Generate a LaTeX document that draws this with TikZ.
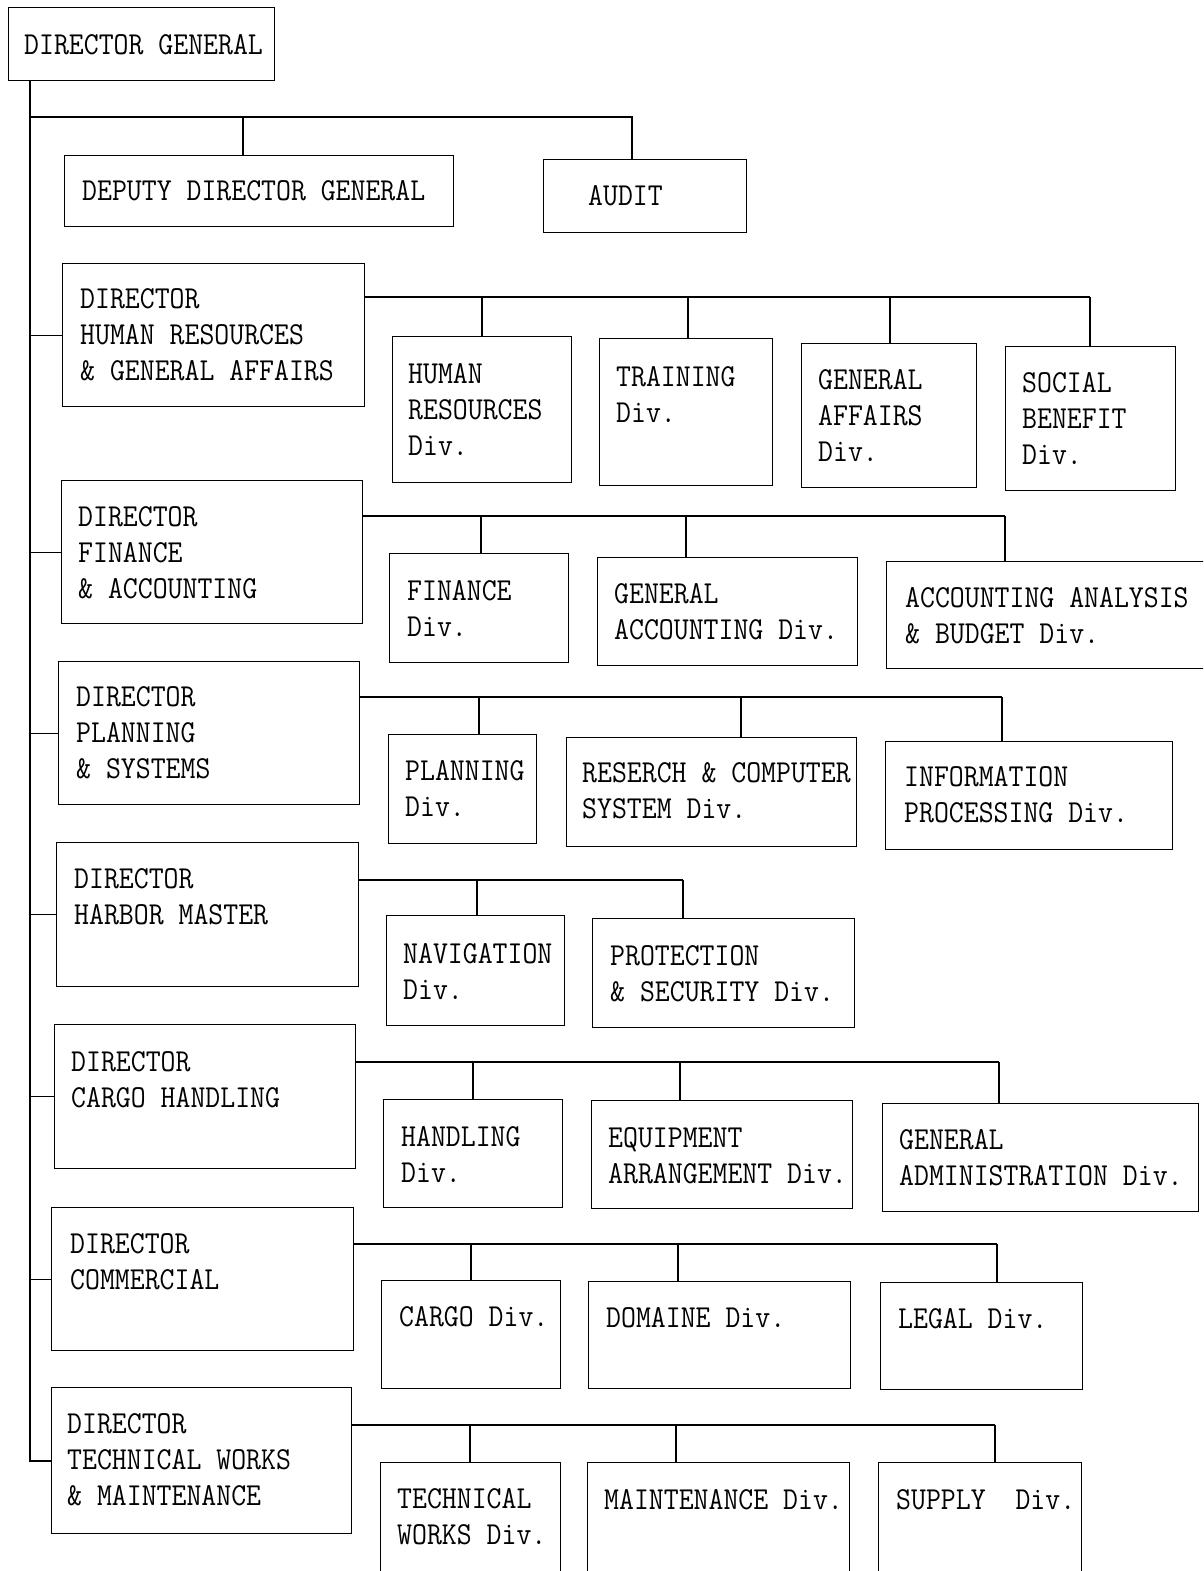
\documentclass[tikz,border=0pt]{standalone}
\usepackage{fontspec}
\newcommand\tfont{\fontsize{32}{36}\selectfont\ttfamily\addfontfeatures{FakeBold=1.3}}
\newcommand\sq[1]{\scalebox{0.905}[1]{#1}}
\newcommand\fl{\rule{0pt}{22pt}}
\tikzset{
  box/.style={draw, line width=1.4pt, inner sep=0pt, anchor=north west},
  lbl/.style={anchor=north west, inner sep=0pt, align=left, font=\tfont},
  conn/.style={line width=1.3pt},
  trunkline/.style={line width=1.8pt}
}
% #1 name, #2 x, #3 y, #4 w, #5 h, #6 text x, #7 text baseline, #8 text
\newcommand\ubox[8]{%
  \node[box, minimum width=#4pt, minimum height=#5pt] (#1) at (#2,#3) {};
  \node[lbl] (#1-t) at (#6,#7-22) {\fl#8};}
\begin{document}
\begin{tikzpicture}[x=1pt,y=-1pt]
\useasboundingbox (0,0) rectangle (1203,1571);
\clip (0,0) rectangle (1203,1571);
\fill[white] (0,0) rectangle (1203,1571);

% top level
\ubox{dg}{8}{7}{266}{73}{24}{54}{\sq{DIRECTOR GENERAL}}
\ubox{ddg}{64}{155}{389}{71}{82}{200}{\sq{DEPUTY DIRECTOR GENERAL}}
\ubox{aud}{543}{159}{203}{73}{588}{205}{\sq{AUDIT}}

% directors
\ubox{hrd}{62}{263}{302}{143}{80}{308}{\sq{DIRECTOR}\\\sq{HUMAN RESOURCES}\\\sq{\& GENERAL AFFAIRS}}
\ubox{fad}{61}{480}{301}{143}{78}{526}{\sq{DIRECTOR}\\\sq{FINANCE}\\\sq{\& ACCOUNTING}}
\ubox{psd}{58}{661}{301}{143}{76}{706}{\sq{DIRECTOR}\\\sq{PLANNING}\\\sq{\& SYSTEMS}}
\ubox{hmd}{56}{842}{302}{144}{74}{888}{\sq{DIRECTOR}\\\sq{HARBOR MASTER}}
\ubox{chd}{54}{1024}{301}{144}{71}{1071}{\sq{DIRECTOR}\\\sq{CARGO HANDLING}}
\ubox{cod}{51}{1207}{302}{143}{70}{1253}{\sq{DIRECTOR}\\\sq{COMMERCIAL}}
\ubox{twd}{51}{1387}{300}{146}{67}{1433}{\sq{DIRECTOR}\\\sq{TECHNICAL WORKS}\\\sq{\& MAINTENANCE}}

% HR divisions
\ubox{hr1}{392}{336}{179}{146}{408}{383}{\sq{HUMAN}\\\sq{RESOURCES}\\\sq{Div.}}
\ubox{hr2}{599}{338}{173}{147}{616}{386}{\sq{TRAINING}\\\sq{Div.}}
\ubox{hr3}{801}{343}{175}{144}{818}{389}{\sq{GENERAL}\\\sq{AFFAIRS}\\\sq{Div.}}
\ubox{hr4}{1005}{346}{170}{144}{1022}{392}{\sq{SOCIAL}\\\sq{BENEFIT}\\\sq{Div.}}

% Finance divisions
\ubox{fa1}{389}{553}{179}{109}{407}{600}{\sq{FINANCE}\\\sq{Div.}}
\ubox{fa2}{597}{557}{260}{108}{614}{603}{\sq{GENERAL}\\\sq{ACCOUNTING Div.}}
\ubox{fa3}{886}{561}{400}{107}{905}{607}{\sq{ACCOUNTING ANALYSIS}\\\sq{\& BUDGET Div.}}

% Planning divisions
\ubox{ps1}{388}{734}{148}{109}{405}{780}{\sq{PLANNING}\\\sq{Div.}}
\ubox{ps2}{566}{737}{290}{109}{582}{782}{\sq{RESERCH \& COMPUTER}\\\sq{SYSTEM Div.}}
\ubox{ps3}{885}{741}{287}{108}{904}{786}{\sq{INFORMATION}\\\sq{PROCESSING Div.}}

% Harbor divisions
\ubox{hm1}{386}{915}{178}{110}{403}{963}{\sq{NAVIGATION}\\\sq{Div.}}
\ubox{hm2}{592}{918}{262}{109}{610}{965}{\sq{PROTECTION}\\\sq{\& SECURITY Div.}}

% Cargo handling divisions
\ubox{ch1}{383}{1099}{179}{108}{401}{1146}{\sq{HANDLING}\\\sq{Div.}}
\ubox{ch2}{591}{1100}{261}{108}{608}{1147}{\sq{EQUIPMENT}\\\sq{ARRANGEMENT Div.}}
\ubox{ch3}{882}{1103}{316}{108}{899}{1149}{\sq{GENERAL}\\\sq{ADMINISTRATION Div.}}

% Commercial divisions
\ubox{co1}{381}{1280}{179}{108}{399}{1326}{\sq{CARGO Div.}}
\ubox{co2}{588}{1281}{262}{107}{606}{1327}{\sq{DOMAINE Div.}}
\ubox{co3}{880}{1282}{202}{107}{898}{1328}{\sq{LEGAL Div.}}

% Technical divisions
\ubox{tw1}{380}{1462}{180}{150}{397}{1508}{\sq{TECHNICAL}\\\sq{WORKS Div.}}
\ubox{tw2}{587}{1462}{262}{150}{604}{1509}{\sq{MAINTENANCE Div.}}
\ubox{tw3}{878}{1462}{203}{150}{896}{1509}{\sq{SUPPLY~~Div.}}

% trunk
\coordinate (tk) at (30,0);
\coordinate (bar) at (30,117);
\draw[trunkline] (dg.south -| tk) -- (tk |- twd.west) -- (twd.west);
\foreach \d in {hrd,fad,psd,hmd,chd,cod}
  \draw[conn] (tk |- \d.west) -- (\d.west);

% top bar
\coordinate (ddgd) at ([xshift=179pt]ddg.north west);
\coordinate (audd) at ([xshift=89pt]aud.north west);
\draw[conn] (bar) -| (audd);
\draw[conn] (ddgd) -- (ddgd |- bar);

% branch helper: #1 director, #2 yshift, list of child:offset
\newcommand\branch[3]{%
  \coordinate (#1b) at ([yshift=-#2pt]#1.north east);
  \foreach \c/\o [count=\i] in {#3} {
    \coordinate (#1c\i) at ([xshift=\o pt]\c.north west);
    \draw[conn] (#1c\i) -- (#1c\i |- #1b);
  }
}
\branch{hrd}{34}{hr1/90,hr2/89,hr3/89,hr4/85}
\draw[conn] (hrdb) -- (hrdb -| hrdc4);
\branch{fad}{36}{fa1/92,fa2/89,fa3/119}
\draw[conn] (fadb) -- (fadb -| fadc3);
\branch{psd}{36}{ps1/91,ps2/175,ps3/117}
\draw[conn] (psdb) -- (psdb -| psdc3);
\branch{hmd}{38}{hm1/91,hm2/91}
\draw[conn] (hmdb) -- (hmdb -| hmdc2);
\branch{chd}{38}{ch1/90,ch2/89,ch3/117}
\draw[conn] (chdb) -- (chdb -| chdc3);
\branch{cod}{37}{co1/90,co2/90,co3/117}
\draw[conn] (codb) -- (codb -| codc3);
\branch{twd}{38}{tw1/90,tw2/89,tw3/117}
\draw[conn] (twdb) -- (twdb -| twdc3);
\end{tikzpicture}
\end{document}
